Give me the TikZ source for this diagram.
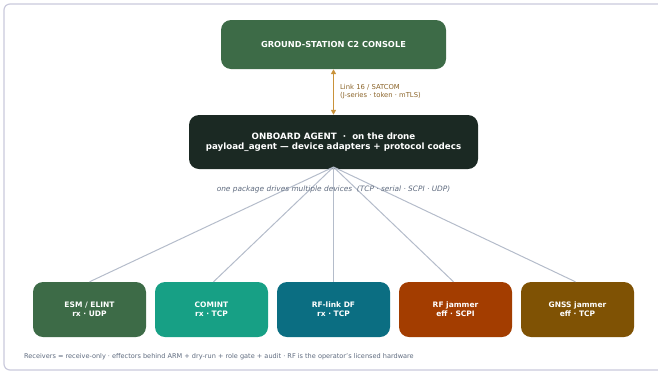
\documentclass[tikz,border=0pt]{standalone}
\usepackage{fontspec}
\setmainfont{DejaVu Sans}
\usetikzlibrary{arrows.meta}
\definecolor{gsgreen}{HTML}{3D6B47}
\definecolor{agentdark}{HTML}{1B2923}
\definecolor{cominttc}{HTML}{17A085}
\definecolor{rflink}{HTML}{0B6E82}
\definecolor{rfjam}{HTML}{A33D00}
\definecolor{gnss}{HTML}{7F5204}
\definecolor{linkgold}{HTML}{C9923A}
\definecolor{linktext}{HTML}{8A6328}
\definecolor{fanline}{HTML}{B4BCCA}
\definecolor{notegray}{HTML}{5E6A7E}
\definecolor{framec}{HTML}{CACADC}
\begin{document}
\begin{tikzpicture}[x=1pt,y=-1pt,
  box/.style={rounded corners=10pt, text=white, font=\bfseries, align=center, inner sep=0pt},
  devbox/.style={box, minimum width=113pt, minimum height=55pt, font=\bfseries\fontsize{7.5}{9.2}\selectfont},
  fan/.style={draw=fanline, line width=1pt}]
\useasboundingbox (0,0) rectangle (658,373);
\draw[framec, line width=1.2pt, rounded corners=6pt] (4,4) rectangle (700,370);
\node[box, fill=gsgreen, minimum width=225pt, minimum height=49pt, font=\bfseries\fontsize{8.25}{9}\selectfont] (gs) at (333.5,44.5) {GROUND-STATION C2 CONSOLE};
\node[box, fill=agentdark, minimum width=289pt, minimum height=54pt, font=\bfseries\fontsize{8.7}{10.5}\selectfont] (agent) at (333.5,142) {ONBOARD AGENT \ ·\ \ on the drone\\payload\_agent — device adapters + protocol codecs};
\draw[linkgold, line width=1.8pt, {Triangle[length=5pt,width=5pt]}-{Triangle[length=5pt,width=5pt]}] (gs.south) -- (agent.north);
\node[text=linktext, font=\fontsize{6.8}{8.5}\selectfont, align=left, anchor=west, inner sep=0pt] (linklbl) at (340,91.5) {Link 16 / SATCOM\\(J-series · token · mTLS)};
\coordinate (hub) at (333.5,167);
\node[devbox, fill=gsgreen] (esm) at (89.5,309.5) {ESM / ELINT\\rx · UDP};
\node[devbox, fill=cominttc] (comint) at (211.5,309.5) {COMINT\\rx · TCP};
\node[devbox, fill=rflink] (rfdf) at (333.5,309.5) {RF-link DF\\rx · TCP};
\node[devbox, fill=rfjam] (rfj) at (455.5,309.5) {RF jammer\\eff · SCPI};
\node[devbox, fill=gnss] (gnssj) at (577.5,309.5) {GNSS jammer\\eff · TCP};
\foreach \n/\dx in {esm/0,comint/2,rfdf/0,rfj/-2,gnssj/-2}
  \draw[fan] (hub) -- ([xshift=\dx pt]\n.north);
\node[text=notegray, font=\itshape\fontsize{7.4}{8}\selectfont, inner sep=1pt] (note) at (333.5,189.5) {one package drives multiple devices \ (TCP · serial · SCPI · UDP)};
\node[text=notegray, font=\fontsize{6.55}{8}\selectfont, anchor=west, inner sep=0pt] (foot) at (24,357) {Receivers = receive-only · effectors behind ARM + dry-run + role gate + audit · RF is the operator's licensed hardware};
\end{tikzpicture}
\end{document}
